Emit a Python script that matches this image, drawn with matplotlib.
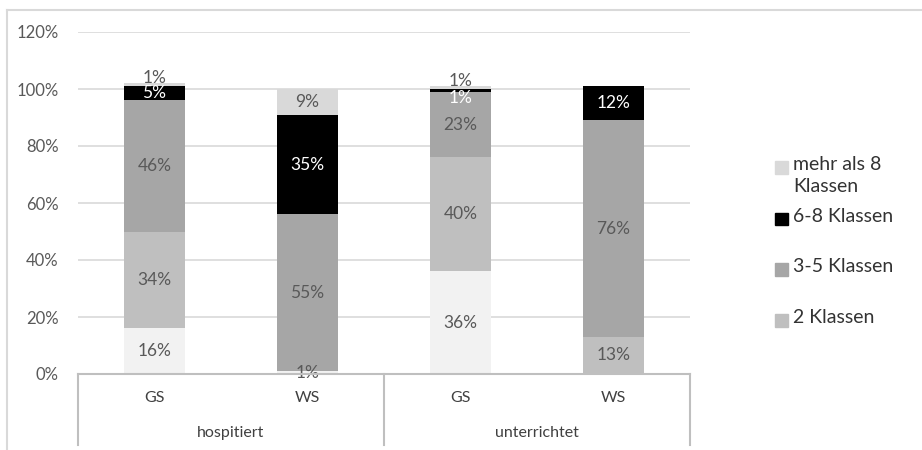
import matplotlib
matplotlib.use("Agg")
import matplotlib.pyplot as plt
from matplotlib.lines import Line2D
from matplotlib.patches import Rectangle
import numpy as np

plt.rcParams['font.family'] = ['Lato', 'DejaVu Sans']

# categories (inner level) and their groups (outer level)
schools = ["GS", "WS", "GS", "WS"]
groups = ["hospitiert", "unterrichtet"]

# series, bottom to top (shares in percent)
series_names = ["1 Klasse", "2 Klassen", "3-5 Klassen", "6-8 Klassen", "mehr als 8 Klassen"]
klasse_1 = [16, 1, 36, 0]
klassen_2 = [34, 0, 40, 13]
klassen_3_5 = [46, 55, 23, 76]
klassen_6_8 = [5, 35, 1, 12]
mehr_als_8 = [1, 9, 1, 0]
values = [klasse_1, klassen_2, klassen_3_5, klassen_6_8, mehr_als_8]
colors = ["#f2f2f2", "#bfbfbf", "#a6a6a6", "#000000", "#d9d9d9"]
label_colors = ["#595959", "#595959", "#595959", "#ffffff", "#595959"]

# series shown in the legend (top to bottom)
legend_series = [4, 3, 2, 1]
legend_texts = ["mehr als 8\nKlassen", "6-8 Klassen", "3-5 Klassen", "2 Klassen"]

yticks = [0, 20, 40, 60, 80, 100, 120]

W, H = 922, 450
fig = plt.figure(figsize=(W / 100, H / 100), dpi=100)
ax = fig.add_axes([78 / W, 1 - 374 / H, 612 / W, 342 / H])

x = np.arange(len(schools))
bottom = np.zeros(len(schools))
totals = np.sum(np.array(values, dtype=float), axis=0)
for si, (vals, col) in enumerate(zip(values, colors)):
    vals = np.array(vals, dtype=float)
    ax.bar(x, vals, 0.4, bottom=bottom, color=col, zorder=3, linewidth=0)
    for xi, v, b in zip(x, vals, bottom):
        if v <= 0:
            continue
        yc = b + v / 2
        off = 0
        # thin segments: lift the top label above the bar, push the one below down
        if v < 2 and si == 4:
            yc = totals[xi]
            off = 3.5
        elif v < 2 and si == 3:
            off = -5.5
        ax.annotate(f"{int(v)}%", (xi, yc), xytext=(0, off), textcoords="offset points",
                    ha="center", va="center", fontsize=12.5, color=label_colors[si], zorder=4)
    bottom += vals

ax.set_xlim(-0.5, len(schools) - 0.5)
ax.set_ylim(0, 120)
ax.set_yticks(yticks)
ax.set_yticklabels([f"{t}%" for t in yticks], fontsize=12, color="#595959")
ax.tick_params(axis="y", length=0, pad=14)
ax.set_xticks([])
ax.grid(axis="y", color="#d9d9d9", linewidth=1.2, zorder=0)
for s in ax.spines.values():
    s.set_visible(False)

# two-level category axis
axis_col = "#bfbfbf"
trans = ax.get_xaxis_transform()
bottom_frac = -71 / 342
ax.plot([-0.5, len(schools) - 0.5], [0, 0], transform=trans, color=axis_col, lw=1.5, clip_on=False, zorder=5)
for xv in [-0.5, 1.5, 3.5]:
    ax.plot([xv, xv], [0, bottom_frac], transform=trans, color=axis_col, lw=1.5, clip_on=False)
for xi, s in zip(x, schools):
    ax.text(xi, -24 / 342, s, transform=trans, ha="center", va="center", fontsize=11.5, color="#404040")
for gi, g in enumerate(groups):
    ax.text(gi * 2 + 0.5, -59 / 342, g, transform=trans, ha="center", va="center", fontsize=11.5, color="#404040")

# legend
leg_y = [167, 219, 269, 320]
for si, txt, yy in zip(legend_series, legend_texts, leg_y):
    fig.patches.append(Rectangle((775 / W, 1 - (yy + 6.5) / H), 13 / W, 13 / H,
                                 transform=fig.transFigure, color=colors[si], figure=fig))
    fig.text(793 / W, 1 - (yy - 11) / H, txt, ha="left", va="top", fontsize=14,
             color="#333333", linespacing=1.35)

# chart frame
fig.add_artist(Line2D([7 / W, 1], [1 - 10 / H, 1 - 10 / H], color="#d9d9d9", lw=1.5, transform=fig.transFigure))
fig.add_artist(Line2D([7 / W, 7 / W], [0, 1 - 10 / H], color="#d9d9d9", lw=1.5, transform=fig.transFigure))

fig.savefig("out.png", dpi=100)
